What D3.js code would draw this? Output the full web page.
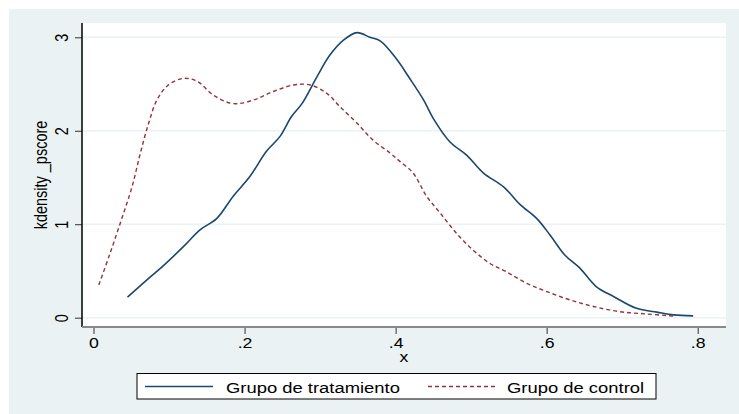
<!DOCTYPE html>
<html>
<head>
    <script src="https://d3js.org/d3.v7.min.js"></script>
    <style>
        body { margin: 0; background: #fff; }
        text { font-family: "Liberation Sans", Arial, sans-serif; fill: #000; font-size: 14.5px; }
    </style>
</head>
<body>
    <svg id="chart" width="739" height="414"></svg>

    <script>
        // treatment group density (x, density)
        var treatX = [0.045, 0.070, 0.093, 0.119, 0.141, 0.163, 0.185, 0.207, 0.229, 0.247, 0.262, 0.276, 0.296, 0.313, 0.331, 0.349, 0.366, 0.380, 0.402, 0.417, 0.437, 0.450, 0.472, 0.494, 0.516, 0.543, 0.565, 0.587, 0.604, 0.624, 0.644, 0.666, 0.688, 0.719, 0.746, 0.768, 0.794];
        var treatY = [0.22, 0.40, 0.56, 0.76, 0.94, 1.06, 1.30, 1.51, 1.78, 1.94, 2.15, 2.29, 2.58, 2.81, 2.97, 3.05, 3.00, 2.96, 2.76, 2.58, 2.33, 2.13, 1.88, 1.74, 1.55, 1.40, 1.21, 1.06, 0.89, 0.67, 0.53, 0.33, 0.23, 0.10, 0.06, 0.03, 0.02];

        // control group density
        var ctrlX = [0.007, 0.022, 0.037, 0.051, 0.062, 0.073, 0.084, 0.099, 0.119, 0.137, 0.159, 0.185, 0.212, 0.238, 0.265, 0.287, 0.309, 0.326, 0.349, 0.370, 0.393, 0.406, 0.423, 0.441, 0.459, 0.481, 0.503, 0.525, 0.547, 0.573, 0.600, 0.631, 0.662, 0.697, 0.732, 0.768];
        var ctrlY = [0.35, 0.69, 1.05, 1.40, 1.76, 2.08, 2.33, 2.49, 2.56, 2.53, 2.38, 2.29, 2.33, 2.42, 2.49, 2.49, 2.40, 2.26, 2.08, 1.90, 1.76, 1.67, 1.55, 1.30, 1.12, 0.90, 0.72, 0.58, 0.49, 0.37, 0.28, 0.19, 0.12, 0.064, 0.04, 0.018];

        var xTicks = [0, 0.2, 0.4, 0.6, 0.8];
        var xTickLabels = ["0", ".2", ".4", ".6", ".8"];
        var yTicks = [0, 1, 2, 3];
        var seriesNames = ["Grupo de tratamiento", "Grupo de control"];

        var svg = d3.select("#chart");
        var plot = { left: 82, right: 726, top: 23, bottom: 327 };
        var stretch = 1.22; // text in the original is a bit wider than tall
        var legendStretch = 1.27;

        var xScale = d3.scaleLinear().domain([0, 0.8]).range([93.5, 697.7]);
        var yScale = d3.scaleLinear().domain([0, 3]).range([317.7, 37.3]);

        // backgrounds
        svg.append("rect").attr("x", 9).attr("y", 9).attr("width", 730).attr("height", 405).attr("fill", "#EAF2F3");
        svg.append("rect").attr("x", plot.left).attr("y", plot.top).attr("width", plot.right - plot.left).attr("height", plot.bottom - plot.top).attr("fill", "#fff");

        // grid
        svg.selectAll(".grid").data(yTicks).enter().append("line")
            .attr("x1", plot.left).attr("x2", plot.right)
            .attr("y1", d => yScale(d)).attr("y2", d => yScale(d))
            .attr("stroke", "#EAF2F3").attr("stroke-width", 1.5);

        // y axis
        var yAxis = svg.append("g").attr("transform", `translate(${plot.left},0)`)
            .call(d3.axisLeft(yScale).tickValues(yTicks).tickSize(7).tickFormat(d3.format("d")));
        yAxis.select(".domain").remove();
        yAxis.selectAll("line").attr("stroke", "#333");
        yAxis.selectAll(".tick text")
            .attr("x", null).attr("y", null).attr("dy", null)
            .attr("text-anchor", "middle")
            .attr("transform", "translate(-14,0) scale(1.3,1) rotate(-90)");
        svg.append("line").attr("x1", plot.left).attr("x2", plot.left).attr("y1", plot.top).attr("y2", plot.bottom)
            .attr("stroke", "#000").attr("stroke-width", 1.5);

        // x axis
        var xAxis = svg.append("g").attr("transform", `translate(0,${plot.bottom})`)
            .call(d3.axisBottom(xScale).tickValues(xTicks).tickSize(7).tickFormat((d, i) => xTickLabels[i]));
        xAxis.select(".domain").remove();
        xAxis.selectAll("line").attr("stroke", "#333");
        xAxis.selectAll(".tick text").attr("y", 21).attr("dy", null).attr("transform", `scale(${stretch},1)`);
        svg.append("line").attr("x1", plot.left).attr("x2", plot.right).attr("y1", plot.bottom).attr("y2", plot.bottom)
            .attr("stroke", "#888").attr("stroke-width", 2);

        // titles
        svg.append("text").attr("transform", `translate(${(plot.left + plot.right) / 2},361.5) scale(${stretch},1)`)
            .attr("text-anchor", "middle").text("x");
        svg.append("text").attr("transform", `translate(47,${(plot.top + plot.bottom) / 2}) scale(1.3,1) rotate(-90)`)
            .attr("text-anchor", "middle").text("kdensity _pscore");

        // density lines
        var line = d3.line().x(d => xScale(d[0])).y(d => yScale(d[1])).curve(d3.curveCatmullRom.alpha(0.5));
        svg.append("path").datum(d3.zip(treatX, treatY)).attr("d", line)
            .attr("fill", "none").attr("stroke", "#1A476F").attr("stroke-width", 1.6);
        svg.append("path").datum(d3.zip(ctrlX, ctrlY)).attr("d", line)
            .attr("fill", "none").attr("stroke", "#90353B").attr("stroke-width", 1.4).attr("stroke-dasharray", "4,3");

        // legend
        svg.append("rect").attr("x", 137).attr("y", 373.5).attr("width", 519).attr("height", 25.5)
            .attr("fill", "#fff").attr("stroke", "#000").attr("stroke-width", 1);
        svg.append("line").attr("x1", 145).attr("x2", 213).attr("y1", 386.5).attr("y2", 386.5)
            .attr("stroke", "#1A476F").attr("stroke-width", 1.6);
        svg.append("text").attr("transform", `translate(226,392.5) scale(${legendStretch},1)`).text(seriesNames[0]);
        svg.append("line").attr("x1", 428).attr("x2", 495).attr("y1", 386.5).attr("y2", 386.5)
            .attr("stroke", "#90353B").attr("stroke-width", 1.4).attr("stroke-dasharray", "4,3");
        svg.append("text").attr("transform", `translate(507,392.5) scale(${legendStretch},1)`).text(seriesNames[1]);
    </script>
</body>
</html>
